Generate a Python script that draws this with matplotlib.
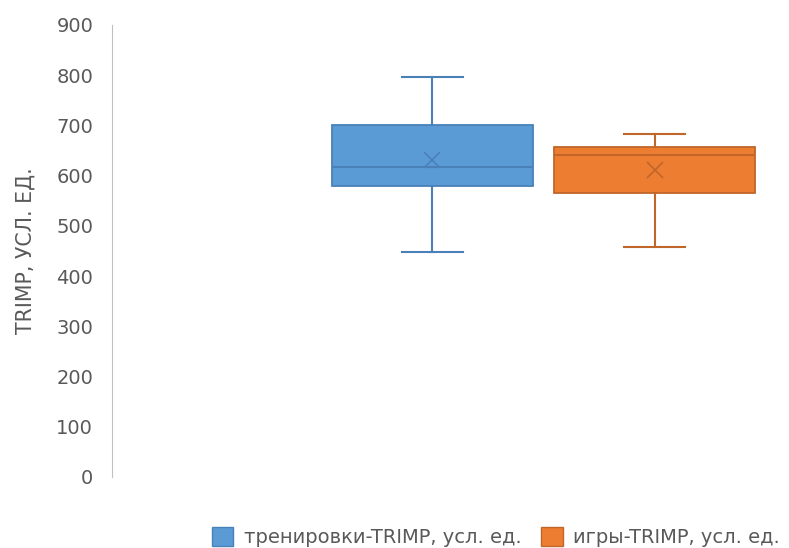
import matplotlib.pyplot as plt
from matplotlib.patches import Patch

plt.rcParams['font.family'] = ['DejaVu Sans']

# box statistics
series = ['тренировки-TRIMP, усл. ед.', 'игры-TRIMP, усл. ед.']
whis_lo = [449, 457]
q1 = [579, 566]
median = [617, 641]
q3 = [701, 658]
whis_hi = [797, 682]
mean = [631, 611]
yticks = [0, 100, 200, 300, 400, 500, 600, 700, 800, 900]

fills = ['#5B9BD5', '#ED7D31']
edges = ['#4A80B8', '#C0662A']
positions = [0.473, 0.802]

fig = plt.figure(figsize=(7.89, 5.48), dpi=100)
ax = fig.add_axes([112/789, 1-477/548, 1-112/789, (477-25)/548])

for i in range(len(series)):
    st = [dict(med=median[i], q1=q1[i], q3=q3[i], whislo=whis_lo[i],
               whishi=whis_hi[i], mean=mean[i], fliers=[])]
    ax.bxp(st, positions=[positions[i]], widths=0.297, patch_artist=True,
           showmeans=True, capwidths=0.09,
           boxprops=dict(facecolor=fills[i], edgecolor=edges[i], linewidth=1.3),
           whiskerprops=dict(color=edges[i], linewidth=1.5),
           capprops=dict(color=edges[i], linewidth=1.5),
           medianprops=dict(color=edges[i], linewidth=1.5),
           meanprops=dict(marker='x', markeredgecolor=edges[i], markersize=11,
                          markeredgewidth=1.2))

ax.set_xlim(0, 1)
ax.set_ylim(0, 900)
ax.set_yticks(yticks)
ax.set_xticks([])
for s in ['top', 'right', 'bottom']:
    ax.spines[s].set_visible(False)
ax.spines['left'].set_color('#BFBFBF')
ax.tick_params(axis='y', length=0, pad=13.5, labelsize=14, labelcolor='#595959')
ax.set_ylabel('TRIMP, УСЛ. ЕД.', fontsize=14.8, color='#595959', labelpad=15)

handles = [Patch(facecolor=fills[i], edgecolor=edges[i], label=series[i]) for i in range(2)]
fig.legend(handles=handles, loc='lower left', bbox_to_anchor=(211/789, 0.0), ncol=2,
           frameon=False, fontsize=14.0, labelcolor='#595959', handlelength=1.1,
           handleheight=1.1, handletextpad=0.55, columnspacing=1.0, borderpad=0.05,
           borderaxespad=0)

fig.savefig('out.png', dpi=100)
